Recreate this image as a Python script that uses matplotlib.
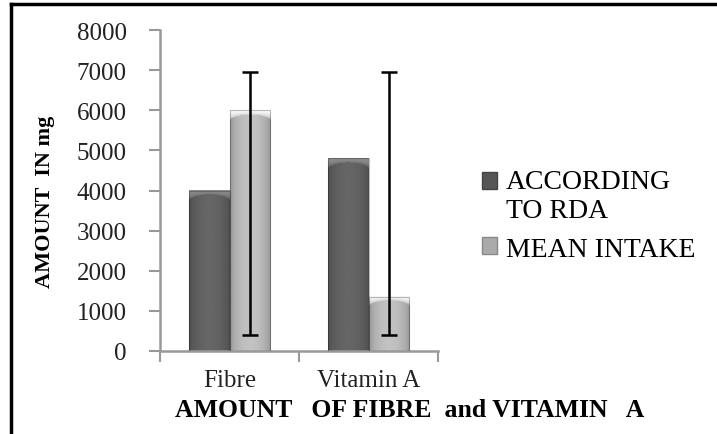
import matplotlib
matplotlib.use("Agg")
import matplotlib.pyplot as plt
from matplotlib.lines import Line2D
from matplotlib.patches import Patch, Rectangle
from matplotlib.legend_handler import HandlerPatch
import numpy as np

plt.rcParams['font.family'] = ['Liberation Serif', 'DejaVu Serif']

categories = ["Fibre", "Vitamin A"]
rda = [4000, 4800]
mean_intake = [6000, 1350]
err_low = [400, 400]      # bottom of the error bar
err_high = [6950, 6950]   # top of the error bar
series_names = ["ACCORDING\nTO RDA", "MEAN INTAKE"]
yticks = [0, 1000, 2000, 3000, 4000, 5000, 6000, 7000, 8000]


def shaded_bar(ax, x0, w, h, edge, mid, top):
    # horizontal cylinder-like gradient with a lighter bevel on top
    nx, ny = 60, 200
    t = np.linspace(0, 1, nx)
    prof = np.sin(np.pi * t) ** 0.6
    col = edge + (mid - edge) * prof
    img = np.tile(col, (ny, 1))
    ys = np.linspace(h, 0, ny)
    bevel = 230.0
    arc = bevel * (0.35 + 0.65 * (1 - prof * 0.9))
    for i, yv in enumerate(ys):
        depth = h - yv
        m = depth < arc
        img[i, m] = top + (img[i, m] - top) * (depth / arc[m]) ** 2 * 0.6
    img = np.clip(img, 0, 1)
    ax.imshow(img, cmap="gray", vmin=0, vmax=1, extent=[x0, x0 + w, 0, h],
              aspect="auto", interpolation="bilinear", zorder=2)
    ax.plot([x0, x0, x0 + w, x0 + w], [0, h, h, 0], color=(0, 0, 0, 0.25), lw=0.8, zorder=3)


def raised_square(legend, orig_handle, xdescent, ydescent, width, height, fontsize):
    # put the marker next to the first line of a two-line label
    return Rectangle((-xdescent, -ydescent + 0.55 * fontsize), width, height)


fig = plt.figure(figsize=(7.17, 4.35), dpi=100)
ax = fig.add_axes([160 / 717, 1 - 352 / 435, 278 / 717, 321 / 435])

bw = 0.288
x = np.arange(len(categories)) + 0.5
for i in range(len(categories)):
    shaded_bar(ax, x[i] - bw, bw, rda[i], 0.30, 0.40, 0.55)
    shaded_bar(ax, x[i], bw, mean_intake[i], 0.58, 0.76, 0.97)

xm = x + bw / 2
lower = np.array(mean_intake) - np.array(err_low)
upper = np.array(err_high) - np.array(mean_intake)
ax.errorbar(xm, mean_intake, yerr=[lower, upper], fmt="none", ecolor="black",
            elinewidth=1.8, capsize=6, capthick=1.8, zorder=4)

ax.set_xlim(0, 2)
ax.set_ylim(0, 8000)
ax.set_yticks(yticks)
ax.set_yticklabels([str(v) for v in yticks], fontsize=18, color="#222222")
ax.set_xticks([0, 1, 2])
ax.set_xticklabels([])
ax.set_xticks(x, minor=True)
ax.set_xticklabels(categories, minor=True, fontsize=18, color="#222222")
ax.tick_params(axis="y", length=8, width=1.5, color="#999999", pad=16)
ax.tick_params(axis="x", which="major", length=8, width=1.5, color="#999999")
ax.tick_params(axis="x", which="minor", length=0, pad=13)
for s in ["top", "right"]:
    ax.spines[s].set_visible(False)
for s in ["left", "bottom"]:
    ax.spines[s].set_color("#999999")
    ax.spines[s].set_linewidth(1.8)

fig.text(45 / 717, 1 - 202 / 435, "AMOUNT  IN mg", rotation=90, ha="center", va="center",
         fontsize=16, fontweight="bold")
fig.text(410 / 717, 1 - 411 / 435, "AMOUNT   OF FIBRE  and VITAMIN   A", ha="center",
         va="center", fontsize=18.5, fontweight="bold")

rda_patch = Patch(facecolor="#555555", edgecolor="#444444")
mean_patch = Patch(facecolor="#aaaaaa", edgecolor="#888888")
fig.legend([rda_patch, mean_patch], series_names, loc="upper left",
           bbox_to_anchor=(482 / 717, 1 - 170 / 435),
           handler_map={rda_patch: HandlerPatch(patch_func=raised_square)},
           frameon=False, fontsize=20, handlelength=0.55, handleheight=0.55, handletextpad=0.3,
           labelspacing=0.5, borderpad=0, borderaxespad=0)

fig.add_artist(Line2D([11 / 717, 1], [1 - 5 / 435, 1 - 5 / 435], color="black", lw=2.5,
                      transform=fig.transFigure))
fig.add_artist(Line2D([11 / 717, 11 / 717], [0, 1 - 5 / 435], color="black", lw=2.5,
                      transform=fig.transFigure))

fig.savefig("out.png", dpi=100)
